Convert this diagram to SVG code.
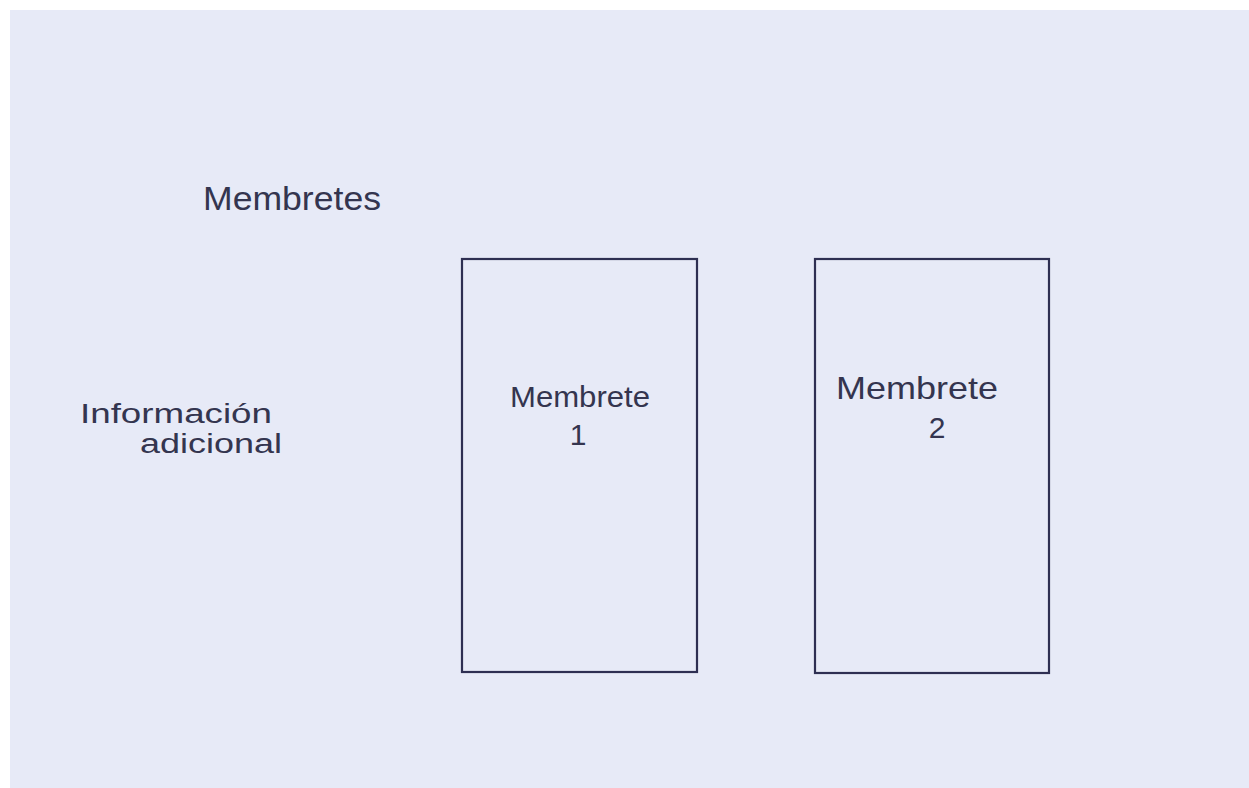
<svg xmlns="http://www.w3.org/2000/svg" width="1249" height="788" viewBox="0 0 1249 788">
<style>
.box{fill:none;stroke:#2e2f52;stroke-width:2.2}
.t{font-family:"Liberation Sans",Arial,sans-serif;fill:#34354f}
</style>
<rect x="0" y="0" width="1249" height="788" fill="#ffffff"/>
<rect x="10" y="10" width="1239" height="778" fill="#e7eaf7"/>
<g id="title">
<text class="t" x="203" y="210" font-size="34" textLength="178" lengthAdjust="spacingAndGlyphs">Membretes</text>
</g>
<g id="info">
<text class="t" x="80" y="423" font-size="27" textLength="192" lengthAdjust="spacingAndGlyphs">Información</text>
<text class="t" x="140" y="453" font-size="27" textLength="142" lengthAdjust="spacingAndGlyphs">adicional</text>
</g>
<g id="membrete1">
<rect class="box" x="462" y="259" width="235" height="413"/>
<text class="t" x="510" y="407" font-size="30" textLength="140" lengthAdjust="spacingAndGlyphs">Membrete</text>
<text class="t" x="578" y="445" font-size="30" text-anchor="middle">1</text>
</g>
<g id="membrete2">
<rect class="box" x="815" y="259" width="234" height="414"/>
<text class="t" x="836" y="399" font-size="32" textLength="162" lengthAdjust="spacingAndGlyphs">Membrete</text>
<text class="t" x="937" y="438" font-size="30" text-anchor="middle">2</text>
</g>
<g id="connectors"></g>
</svg>
